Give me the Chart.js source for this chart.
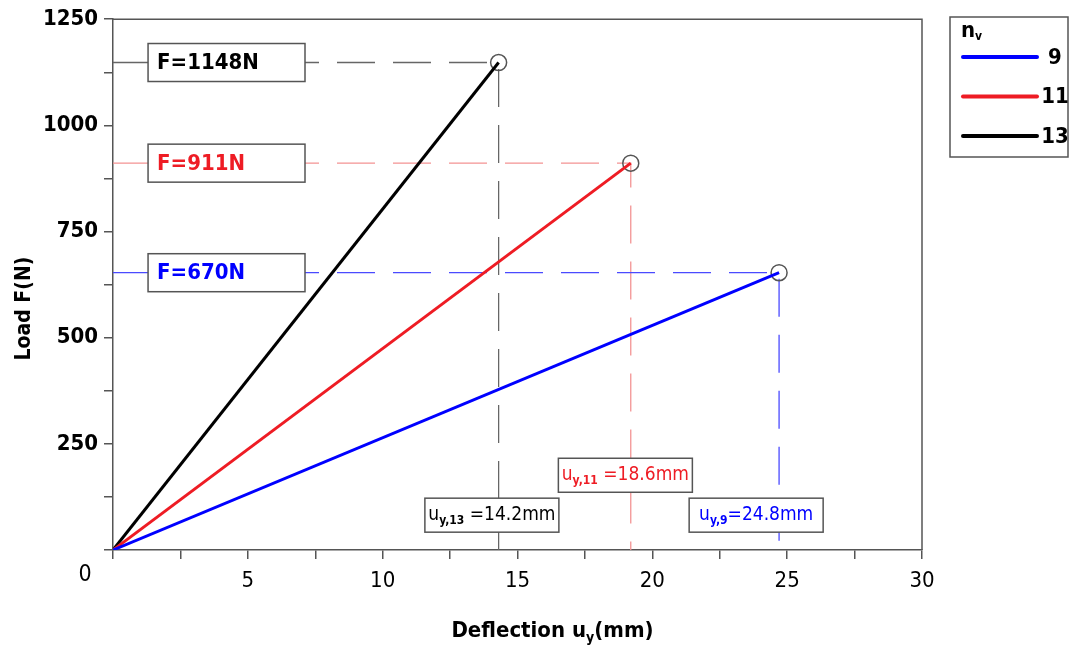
<!DOCTYPE html>
<html>
<head>
<meta charset="utf-8">
<script src="https://cdn.jsdelivr.net/npm/chart.js@4"></script>
<style>
  body { margin: 0; background: #fff; }
  #wrap { width: 1070px; height: 648px; }
</style>
</head>
<body>
<div id="wrap"><canvas id="myChart" width="1070" height="648"></canvas></div>
<script>
// data
const seriesNames = ['9', '11', '13'];
const deflection = [24.7, 19.2, 14.3];   // end point u_y (mm)
const load = [653, 911, 1148];           // end point F (N)
const loadText = ['F=670N', 'F=911N', 'F=1148N'];
const deflSub = ['y,9', 'y,11', 'y,13'];
const deflText = ['=24.8mm', ' =18.6mm', ' =14.2mm'];
const xTickLabels = [5, 10, 15, 20, 25, 30];
const yTickLabels = [250, 500, 750, 1000, 1250];

// styles
const lineColors = ['#0000ff', '#ee1c24', '#000000'];
const guideColors = ['#4a4aff', '#f39393', '#666666'];
const FONT = "'DejaVu Sans Condensed', 'DejaVu Sans', sans-serif";

// where the label boxes sit (in data units)
const loadBoxX = [1.3, 7.12];
const deflBoxX = [23.85, 19.0, 14.05];
const deflBoxY = [82, 176, 82];

const datasets = [];
seriesNames.forEach((n, i) => {
  datasets.push({
    label: n,
    data: [{x: 0, y: 0}, {x: deflection[i], y: load[i]}],
    showLine: true,
    borderColor: lineColors[i],
    borderWidth: 3,
    pointRadius: 0,
    order: 1
  });
});
seriesNames.forEach((n, i) => {
  datasets.push({
    label: 'guide ' + n,
    data: [{x: 0, y: load[i]}, {x: deflection[i], y: load[i]}, {x: deflection[i], y: 0}],
    showLine: true,
    borderColor: guideColors[i],
    borderWidth: 1.3,
    borderDash: [38, 18],
    pointRadius: [0, 8, 0],
    pointBorderColor: '#555',
    pointBorderWidth: 1.5,
    pointBackgroundColor: 'rgba(0,0,0,0)',
    order: 2
  });
});

function drawParts(ctx, parts, x, y, color) {
  ctx.fillStyle = color;
  ctx.textBaseline = 'middle';
  ctx.textAlign = 'left';
  parts.forEach(p => {
    ctx.font = p.f;
    ctx.fillText(p.t, x, y + (p.dy || 0));
    x += ctx.measureText(p.t).width;
  });
}
function partsWidth(ctx, parts) {
  let w = 0;
  parts.forEach(p => { ctx.font = p.f; w += ctx.measureText(p.t).width; });
  return w;
}
function box(ctx, l, t, w, h) {
  ctx.fillStyle = '#fff';
  ctx.fillRect(l, t, w, h);
  ctx.strokeStyle = '#555';
  ctx.lineWidth = 1.5;
  ctx.strokeRect(l, t, w, h);
}

const annot = {
  id: 'annot',
  afterDatasetsDraw(chart) {
    const ctx = chart.ctx;
    const a = chart.chartArea;
    const x = chart.scales.x, y = chart.scales.y;
    ctx.save();
    // frame top and right
    ctx.strokeStyle = '#555';
    ctx.lineWidth = 1.5;
    ctx.beginPath();
    ctx.moveTo(a.left, a.top);
    ctx.lineTo(a.right, a.top);
    ctx.lineTo(a.right, a.bottom);
    ctx.stroke();

    // load boxes
    seriesNames.forEach((n, i) => {
      const l = x.getPixelForValue(loadBoxX[0]);
      const r = x.getPixelForValue(loadBoxX[1]);
      const cy = y.getPixelForValue(load[i]);
      box(ctx, l, cy - 19, r - l, 38);
      drawParts(ctx, [{t: loadText[i], f: 'bold 22px ' + FONT}], l + 9, cy + 1, lineColors[i]);
    });

    // deflection boxes
    seriesNames.forEach((n, i) => {
      const cx = x.getPixelForValue(deflBoxX[i]);
      const cy = y.getPixelForValue(deflBoxY[i]);
      box(ctx, cx - 67, cy - 17, 134, 34);
      const parts = [
        {t: 'u', f: '19px ' + FONT},
        {t: deflSub[i], f: 'bold 12px ' + FONT, dy: 6},
        {t: deflText[i], f: '19px ' + FONT}
      ];
      const w = partsWidth(ctx, parts);
      drawParts(ctx, parts, cx - w / 2, cy, lineColors[i]);
    });

    // corner zero
    ctx.fillStyle = '#000';
    ctx.font = '23px ' + FONT;
    ctx.textAlign = 'center';
    ctx.textBaseline = 'middle';
    ctx.fillText('0', 85, 575);

    // axis titles
    const xt = [
      {t: 'Deflection u', f: 'bold 22px ' + FONT},
      {t: 'y', f: 'bold 14px ' + FONT, dy: 7},
      {t: '(mm)', f: 'bold 22px ' + FONT}
    ];
    const xw = partsWidth(ctx, xt);
    drawParts(ctx, xt, (a.left + a.right) / 2 - xw / 2 + 35, 631, '#000');

    ctx.save();
    ctx.translate(25, (a.top + a.bottom) / 2 + 24);
    ctx.rotate(-Math.PI / 2);
    ctx.font = 'bold 21px ' + FONT;
    ctx.textAlign = 'center';
    ctx.textBaseline = 'middle';
    ctx.fillStyle = '#000';
    ctx.fillText('Load F(N)', 0, 0);
    ctx.restore();

    // legend
    const lx = 950, ly = 17;
    ctx.strokeStyle = '#555';
    ctx.lineWidth = 1.5;
    ctx.strokeRect(lx, ly, 118, 140);
    drawParts(ctx, [
      {t: 'n', f: 'bold 22px ' + FONT},
      {t: 'v', f: 'bold 12px ' + FONT, dy: 6}
    ], lx + 11, ly + 14, '#000');
    seriesNames.forEach((n, i) => {
      const yy = ly + 40 + i * 39.5;
      ctx.strokeStyle = lineColors[i];
      ctx.lineWidth = 4;
      ctx.lineCap = 'round';
      ctx.beginPath();
      ctx.moveTo(lx + 13, yy);
      ctx.lineTo(lx + 87, yy);
      ctx.stroke();
      ctx.fillStyle = '#000';
      ctx.font = 'bold 22px ' + FONT;
      ctx.textAlign = 'center';
      ctx.textBaseline = 'middle';
      ctx.fillText(n, lx + 105, yy + 1);
    });
    ctx.restore();
  }
};

const ctx = document.getElementById('myChart');
new Chart(ctx, {
  type: 'scatter',
  data: { datasets: datasets },
  plugins: [annot],
  options: {
    responsive: false,
    animation: false,
    layout: { padding: { left: 0, top: 17, right: 148, bottom: 0 } },
    plugins: { legend: { display: false }, tooltip: { enabled: false } },
    scales: {
      x: {
        type: 'linear',
        min: 0,
        max: 30,
        afterFit: function(scale) { scale.height = 98; },
        ticks: {
          stepSize: 2.5,
          autoSkip: false,
          maxRotation: 0,
          padding: 9,
          color: '#000',
          font: { family: FONT, size: 22 },
          callback: function(value) { return xTickLabels.includes(value) ? String(value) : ''; }
        },
        grid: { drawOnChartArea: false, tickLength: 9, color: '#555', lineWidth: 1.5 },
        border: { display: true, color: '#555', width: 1.5 }
      },
      y: {
        type: 'linear',
        min: 0,
        max: 1250,
        afterFit: function(scale) { scale.width = 113; },
        ticks: {
          stepSize: 125,
          autoSkip: false,
          padding: 6,
          color: '#000',
          font: { family: FONT, size: 22, weight: 'bold' },
          callback: function(value) { return yTickLabels.includes(value) ? String(value) : ''; }
        },
        grid: { drawOnChartArea: false, tickLength: 9, color: '#555', lineWidth: 1.5 },
        border: { display: true, color: '#555', width: 1.5 }
      }
    }
  }
});
</script>
</body>
</html>
